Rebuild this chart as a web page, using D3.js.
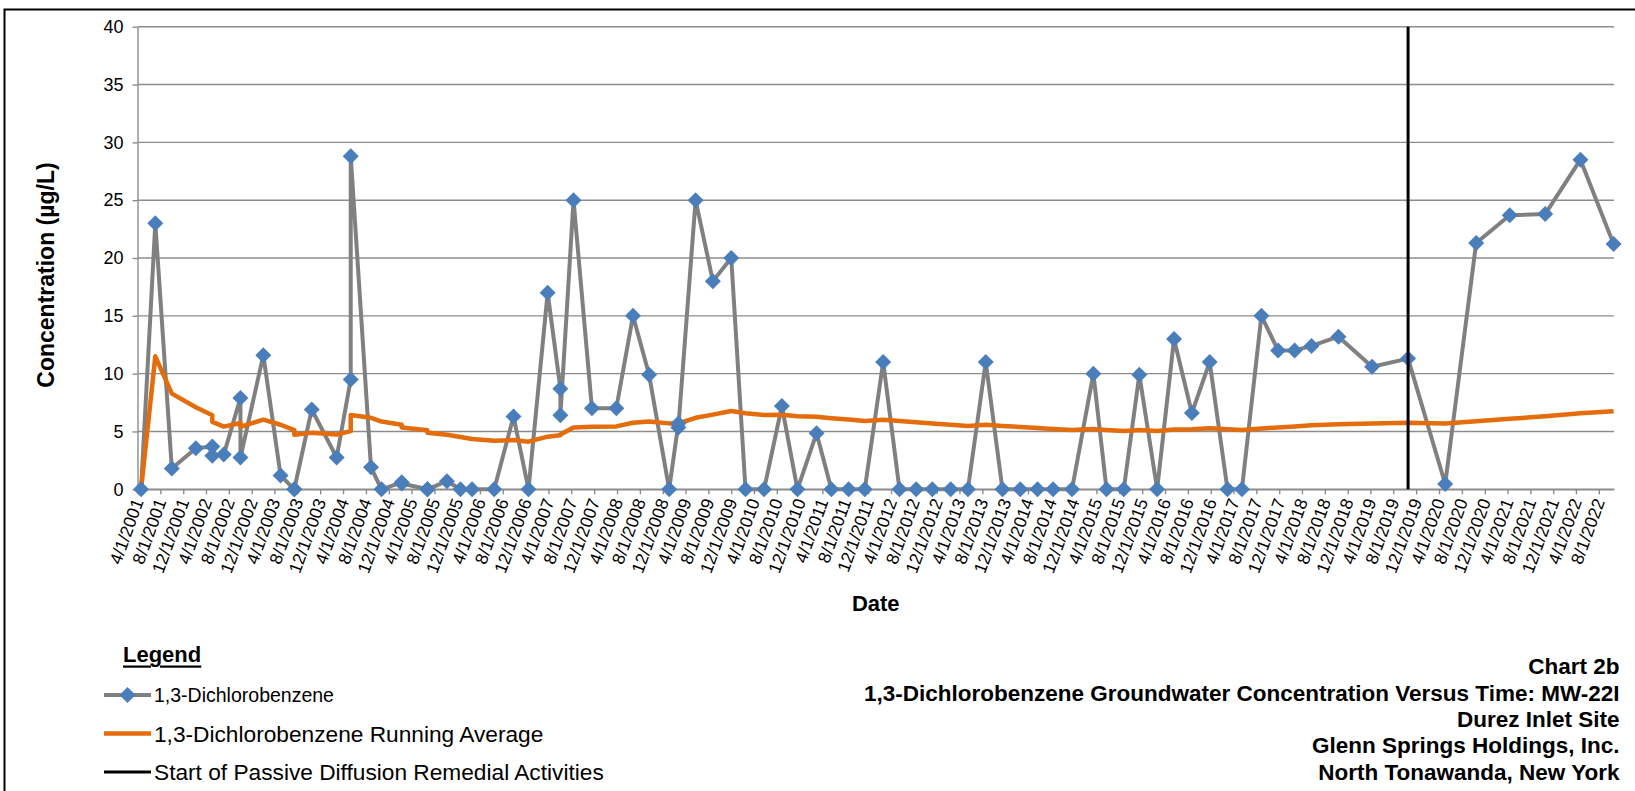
<!DOCTYPE html>
<html>
<head>
<meta charset="utf-8">
<script src="https://cdn.jsdelivr.net/npm/d3@7"></script>
<style>
  html, body { margin: 0; padding: 0; background: #ffffff; }
  svg { display: block; }
  text { font-family: "Liberation Sans", Arial, Helvetica, sans-serif; fill: #000; }
</style>
</head>
<body>
<svg id="chart" width="1635" height="791"></svg>
<script>
// ---------------- DATA ----------------
const sampleDates = [
  "2001-04-20","2001-07-05","2001-10-01","2002-02-06","2002-05-05","2002-05-05","2002-07-05","2002-10-02","2002-10-02","2003-02-01",
  "2003-05-04","2003-07-16","2003-07-16","2003-10-17","2004-02-27","2004-05-12","2004-05-12","2004-08-28","2004-10-23","2005-02-08",
  "2005-02-08","2005-06-25","2005-06-25","2005-10-07","2005-12-18","2006-02-18","2006-06-16","2006-09-27","2006-12-16","2007-03-28",
  "2007-06-04","2007-06-04","2007-08-13","2007-11-19","2008-03-28","2008-06-25","2008-09-19","2009-01-04","2009-02-22","2009-02-22",
  "2009-05-25","2009-08-25","2009-12-01","2010-02-15","2010-05-25","2010-08-28","2010-11-19","2011-03-01","2011-05-19","2011-08-19",
  "2011-11-13","2012-02-19","2012-05-16","2012-08-13","2012-11-07","2013-02-13","2013-05-16","2013-08-19","2013-11-16","2014-02-19",
  "2014-05-22","2014-08-13","2014-11-22","2015-03-16","2015-05-25","2015-08-25","2015-11-16","2016-02-19","2016-05-19","2016-08-22",
  "2016-11-25","2017-02-28","2017-05-16","2017-08-28","2017-11-25","2018-02-21","2018-05-22","2018-10-13","2019-04-10","2019-10-19",
  "2020-05-04","2020-10-16","2021-04-13","2021-10-19","2022-04-25","2022-10-19"
];

const concentration = [
  0, 23.0, 1.8, 3.55, 3.7, 2.9, 3.0, 7.9, 2.75, 11.6,
  1.2, 0, 0, 6.9, 2.75, 9.5, 28.8, 1.9, 0, 0.6,
  0.5, 0, 0, 0.7, 0, 0, 0, 6.3, 0, 17.0,
  8.7, 6.4, 25.0, 7.0, 7.0, 15.0, 9.9, 0, 5.7, 5.35,
  25.0, 18.0, 20.0, 0, 0, 7.2, 0, 4.85, 0, 0,
  0, 11.0, 0, 0, 0, 0, 0, 11.0, 0, 0,
  0, 0, 0, 10.0, 0, 0, 9.9, 0, 13.0, 6.6,
  11.0, 0, 0, 15.0, 12.0, 12.0, 12.4, 13.2, 10.6, 11.3,
  0.46, 21.3, 23.7, 23.8, 28.5, 21.2
];

const runningAverage = [
  0, 11.5, 8.27, 7.09, 6.41, 5.83, 5.42, 5.73, 5.40, 6.02,
  5.58, 5.12, 4.72, 4.88, 4.74, 5.03, 6.43, 6.18, 5.86, 5.59,
  5.35, 5.11, 4.89, 4.71, 4.52, 4.35, 4.19, 4.26, 4.12, 4.55,
  4.68, 4.73, 5.35, 5.40, 5.44, 5.76, 5.86, 5.70, 5.70, 5.69,
  6.18, 6.46, 6.77, 6.58, 6.43, 6.45, 6.31, 6.28, 6.15, 6.03,
  5.91, 6.01, 5.90, 5.79, 5.68, 5.58, 5.48, 5.58, 5.48, 5.39,
  5.30, 5.22, 5.13, 5.21, 5.13, 5.05, 5.13, 5.05, 5.17, 5.19,
  5.27, 5.20, 5.12, 5.26, 5.35, 5.44, 5.53, 5.62, 5.69, 5.76,
  5.69, 5.88, 6.10, 6.31, 6.57, 6.74
];

const remedialStartDate = "2019-10-19";
const xAxisStart = "2001-04-01";
const xAxisEnd = "2022-10-21";
const xTickFirst = "2001-04-01";
const xTickLast = "2022-08-01";
const xTickStepMonths = 4;
const yTickValues = [0, 5, 10, 15, 20, 25, 30, 35, 40];

const yAxisTitle = "Concentration (\u00b5g/L)";
const xAxisTitle = "Date";
const legendTitle = "Legend";
const legendLabels = [
  "1,3-Dichlorobenzene",
  "1,3-Dichlorobenzene Running Average",
  "Start of Passive Diffusion Remedial Activities"
];
const titleLines = [
  "Chart 2b",
  "1,3-Dichlorobenzene Groundwater Concentration Versus Time: MW-22I",
  "Durez Inlet Site",
  "Glenn Springs Holdings, Inc.",
  "North Tonawanda, New York"
];

// ---------------- LAYOUT / STYLE ----------------
const COLORS = {
  series: "#808080",
  marker: "#4A7EBB",
  average: "#E46C0A",
  remedial: "#000000",
  grid: "#8C8C8C",
  border: "#000000"
};
const plot = { left: 137.5, right: 1614, top: 26.7, bottom: 489.3 };
const legendRowsY = [695, 733.5, 772];
const legendFontSizes = [19.5, 22.7, 22.7];
const titleRowsY = [666, 693.5, 719.5, 745.5, 772];

const parseDate = d3.utcParse("%Y-%m-%d");
const svg = d3.select("#chart");

svg.append("rect").attr("x", 0).attr("y", 0).attr("width", 1635).attr("height", 791).attr("fill", "#fff");

// outer chart border (only top and left edges fall inside the frame)
svg.append("rect")
  .attr("x", 4.5).attr("y", 9.5)
  .attr("width", 1700).attr("height", 900)
  .attr("fill", "none").attr("stroke", COLORS.border).attr("stroke-width", 2);

const x = d3.scaleUtc()
  .domain([parseDate(xAxisStart), parseDate(xAxisEnd)])
  .range([plot.left, plot.right]);

const y = d3.scaleLinear()
  .domain([0, 40])
  .range([plot.bottom, plot.top]);

const points = sampleDates.map((d, i) => ({ date: parseDate(d), value: concentration[i], avg: runningAverage[i] }));

// gridlines
svg.append("g").attr("class", "grid")
  .selectAll("line").data(yTickValues).join("line")
  .attr("x1", plot.left).attr("x2", plot.right)
  .attr("y1", d => y(d)).attr("y2", d => y(d))
  .attr("stroke", COLORS.grid).attr("stroke-width", 1.4);

// y axis
const yAxis = d3.axisLeft(y).tickValues(yTickValues).tickSize(5).tickSizeOuter(0).tickPadding(9);
const gy = svg.append("g").attr("transform", `translate(${plot.left},0)`).call(yAxis);
gy.select(".domain").attr("stroke", COLORS.grid).attr("stroke-width", 1.4);
gy.selectAll(".tick line").attr("stroke", COLORS.grid).attr("stroke-width", 1.4);
gy.selectAll(".tick text")
  .attr("font-family", '"Liberation Sans", Arial, sans-serif')
  .attr("font-size", 18).attr("fill", "#000");

// x axis
const xTicks = d3.utcMonth.range(parseDate(xTickFirst), d3.utcDay.offset(parseDate(xTickLast), 1), xTickStepMonths);
const fmt = d => `${d.getUTCMonth() + 1}/${d.getUTCDate()}/${d.getUTCFullYear()}`;
const xAxis = d3.axisBottom(x).tickValues(xTicks).tickFormat(fmt).tickSize(5).tickSizeOuter(0);
const gx = svg.append("g").attr("transform", `translate(0,${plot.bottom})`).call(xAxis);
gx.select(".domain").attr("stroke", COLORS.grid).attr("stroke-width", 1.4);
gx.selectAll(".tick line").attr("stroke", COLORS.grid).attr("stroke-width", 1.4);
gx.selectAll(".tick text")
  .attr("font-family", '"Liberation Sans", Arial, sans-serif')
  .attr("font-size", 17.5).attr("fill", "#000")
  .attr("x", 0).attr("y", 0).attr("dy", "0.35em")
  .attr("text-anchor", "end")
  .attr("transform", "translate(0,10) rotate(-70)");

// series line
const line = d3.line().x(d => x(d.date)).y(d => y(d.value));
svg.append("path").datum(points)
  .attr("d", line)
  .attr("fill", "none").attr("stroke", COLORS.series)
  .attr("stroke-width", 4).attr("stroke-linejoin", "round");

// running average
const avgLine = d3.line().x(d => x(d.date)).y(d => y(d.avg));
svg.append("path").datum(points)
  .attr("d", avgLine)
  .attr("fill", "none").attr("stroke", COLORS.average)
  .attr("stroke-width", 4.5).attr("stroke-linejoin", "round");

// diamond markers
const squareDiamond = {
  draw(ctx, size) {
    const r = Math.sqrt(size / 2);
    ctx.moveTo(0, -r); ctx.lineTo(r, 0); ctx.lineTo(0, r); ctx.lineTo(-r, 0); ctx.closePath();
  }
};
const markerSym = d3.symbol().type(squareDiamond).size(128);
svg.append("g").selectAll("path").data(points).join("path")
  .attr("d", markerSym)
  .attr("transform", d => `translate(${x(d.date)},${y(d.value)})`)
  .attr("fill", COLORS.marker);

// remedial start line
const xr = x(parseDate(remedialStartDate));
svg.append("line")
  .attr("x1", xr).attr("x2", xr)
  .attr("y1", y(40)).attr("y2", y(0))
  .attr("stroke", COLORS.remedial).attr("stroke-width", 3);

// axis titles
svg.append("text")
  .attr("transform", `translate(46,275) rotate(-90)`)
  .attr("text-anchor", "middle").attr("dominant-baseline", "central")
  .attr("font-weight", "bold").attr("font-size", 23)
  .text(yAxisTitle);

svg.append("text")
  .attr("x", (plot.left + plot.right) / 2).attr("y", 603)
  .attr("text-anchor", "middle").attr("dominant-baseline", "central")
  .attr("font-weight", "bold").attr("font-size", 22)
  .text(xAxisTitle);

// legend
const lg = svg.append("g");
lg.append("text")
  .attr("x", 123).attr("y", 654)
  .attr("dominant-baseline", "central")
  .attr("font-weight", "bold").attr("font-size", 22)
  .attr("text-decoration", "underline")
  .text(legendTitle);

const legendStyles = [
  { stroke: COLORS.series, width: 4, marker: true },
  { stroke: COLORS.average, width: 4.5, marker: false },
  { stroke: COLORS.remedial, width: 3, marker: false }
];
legendLabels.forEach((lab, i) => {
  const yy = legendRowsY[i];
  const st = legendStyles[i];
  lg.append("line").attr("x1", 104).attr("x2", 151).attr("y1", yy).attr("y2", yy)
    .attr("stroke", st.stroke).attr("stroke-width", st.width);
  if (st.marker) {
    lg.append("path").attr("d", markerSym).attr("transform", `translate(127.5,${yy})`).attr("fill", COLORS.marker);
  }
  lg.append("text").attr("x", 154).attr("y", yy)
    .attr("dominant-baseline", "central").attr("font-size", legendFontSizes[i])
    .text(lab);
});

// title block (right aligned)
svg.append("g").selectAll("text").data(titleLines).join("text")
  .attr("x", 1619.5).attr("y", (d, i) => titleRowsY[i])
  .attr("text-anchor", "end").attr("dominant-baseline", "central")
  .attr("font-weight", "bold").attr("font-size", 22.5)
  .text(d => d);
</script>
</body>
</html>
